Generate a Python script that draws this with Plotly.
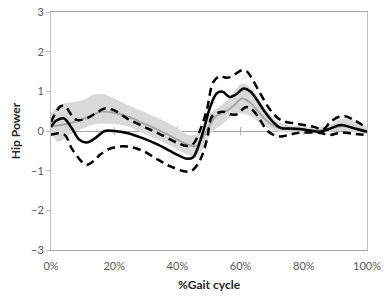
import plotly.graph_objects as go

# ---- data (x in % gait cycle, y = hip power) ----
mean_x = [0, 1.5, 4, 6.5, 9, 11.3, 14, 17, 20, 24, 29, 34, 40, 43, 45, 46.2, 48.3, 50.4, 52.5,
          54.3, 56.5, 58.5, 61, 63, 65.2, 67.5, 70, 72.6, 76, 80, 85, 88, 91.6, 95, 100]
mean_y = [0.1, 0.25, 0.32, 0.08, -0.22, -0.29, -0.18, 0.0, 0.0, -0.05, -0.18, -0.35, -0.6, -0.7,
          -0.66, -0.48, 0.03, 0.61, 0.95, 0.99, 0.86, 0.92, 1.07, 1.0, 0.78, 0.5, 0.25, 0.08,
          0.06, 0.04, -0.02, 0.05, 0.15, 0.09, -0.02]

upper_x = [0, 3, 4.5, 6.5, 8.1, 11.3, 15, 17, 20, 24, 29, 34, 40, 43, 45, 47.2, 49.3, 51.4,
           53.5, 55.7, 58, 60.4, 62, 63.6, 66.2, 69.4, 72.6, 77.9, 83, 86.2, 88.4, 92.2, 95.8, 100]
upper_y = [0.23, 0.62, 0.62, 0.4, 0.28, 0.32, 0.49, 0.57, 0.52, 0.32, 0.12, -0.06, -0.3, -0.38,
           -0.33, 0.03, 0.53, 1.24, 1.38, 1.34, 1.42, 1.53, 1.5, 1.32, 0.95, 0.53, 0.28, 0.18,
           0.11, 0.04, 0.23, 0.38, 0.28, 0.07]

lower_x = [0, 1.8, 4.4, 6.5, 9.7, 11.3, 13.9, 15.5, 19.2, 24, 29, 34, 38, 42.5, 44.6, 47.2,
           49.3, 50.9, 52.8, 55, 56.7, 58.8, 61.5, 63, 65.2, 68, 70, 72.6, 76, 79, 85, 88.4,
           91.6, 96, 100]
lower_y = [-0.1, -0.06, -0.1, -0.43, -0.77, -0.85, -0.73, -0.6, -0.43, -0.39, -0.5, -0.73,
           -0.9, -1.02, -1.0, -0.73, -0.23, 0.36, 0.46, 0.48, 0.42, 0.42, 0.6, 0.58, 0.4, 0.05,
           -0.08, -0.14, -0.08, -0.04, -0.05, -0.1, -0.04, -0.07, -0.1]

band_x = [0, 2.3, 4.4, 7.6, 10.8, 13, 16, 19, 24.5, 29, 34, 39, 43.5, 46, 48, 50, 52, 54, 56,
          58, 60.4, 63, 65.7, 68, 71, 75, 80, 85, 88, 92, 96, 100]
ref_mean = [0.12, 0.14, 0.17, 0.23, 0.32, 0.4, 0.49, 0.47, 0.36, 0.2, 0.03, -0.18, -0.35, -0.38,
            -0.18, 0.12, 0.36, 0.45, 0.53, 0.65, 0.82, 0.72, 0.48, 0.28, 0.11, 0.05, 0.03, 0.02,
            0.05, 0.12, 0.08, 0.0]
band_hi = [0.45, 0.62, 0.7, 0.74, 0.8, 0.9, 0.93, 0.86, 0.65, 0.5, 0.32, 0.12, -0.1, -0.08, 0.12,
           0.4, 0.55, 0.65, 0.8, 1.0, 1.2, 1.1, 0.82, 0.55, 0.28, 0.15, 0.12, 0.1, 0.15, 0.3,
           0.25, 0.1]
band_lo = [-0.06, -0.27, -0.18, -0.02, 0.08, 0.15, 0.19, 0.18, 0.11, -0.05, -0.23, -0.42, -0.6,
           -0.65, -0.45, -0.15, 0.05, 0.15, 0.3, 0.4, 0.44, 0.38, 0.23, 0.1, 0.0, -0.04, -0.05,
           -0.05, -0.02, 0.0, -0.03, -0.08]

x_ticks = [0, 20, 40, 60, 80, 100]
x_tick_labels = ["0%", "20%", "40%", "60%", "80%", "100%"]
y_ticks = [-3, -2, -1, 0, 1, 2, 3]

FONT = "Lato"

fig = go.Figure()
fig.add_trace(go.Scatter(x=band_x, y=band_hi, mode="lines", line=dict(width=0, shape="spline"),
                         hoverinfo="skip", showlegend=False))
fig.add_trace(go.Scatter(x=band_x, y=band_lo, mode="lines", line=dict(width=0, shape="spline"),
                         fill="tonexty", fillcolor="#d9d9d9", showlegend=False))
fig.add_trace(go.Scatter(x=band_x, y=ref_mean, mode="lines",
                         line=dict(color="#a6a6a6", width=2, shape="spline"), showlegend=False))
fig.add_trace(go.Scatter(x=upper_x, y=upper_y, mode="lines",
                         line=dict(color="black", width=2.5, dash="8px,5px", shape="spline"),
                         showlegend=False))
fig.add_trace(go.Scatter(x=lower_x, y=lower_y, mode="lines",
                         line=dict(color="black", width=2.5, dash="8px,5px", shape="spline"),
                         showlegend=False))
fig.add_trace(go.Scatter(x=mean_x, y=mean_y, mode="lines",
                         line=dict(color="black", width=2.5, shape="spline"), showlegend=False))

# small tick marks on the zero line (Excel-style horizontal axis crossing at 0)
for t in x_ticks[1:-1]:
    fig.add_shape(type="line", x0=t, x1=t, y0=-0.1, y1=0.1, xref="x", yref="y",
                  line=dict(color="#a6a6a6", width=1), layer="below")

fig.update_layout(
    width=385, height=299,
    margin=dict(l=51, r=18, t=12, b=49),
    paper_bgcolor="white", plot_bgcolor="white",
    font=dict(family=FONT, size=11, color="#595959"),
    xaxis=dict(range=[0, 100], tickvals=x_ticks, ticktext=x_tick_labels, showgrid=False,
               zeroline=False, showline=True, linecolor="#a6a6a6", linewidth=1, mirror=True,
               ticks="outside", ticklen=6, tickcolor="rgba(0,0,0,0)", automargin=False,
               tickfont=dict(family=FONT, size=11, color="#595959"),
               title=dict(text="<b>%Gait cycle</b>", standoff=9,
                          font=dict(family=FONT, size=12, color="#262626"))),
    yaxis=dict(range=[-3, 3], tickvals=y_ticks, showgrid=False, automargin=False,
               zeroline=True, zerolinecolor="#a6a6a6", zerolinewidth=1,
               showline=True, linecolor="#bfbfbf", linewidth=1, mirror=True,
               ticks="outside", ticklen=4, tickcolor="#bfbfbf",
               tickfont=dict(family=FONT, size=11, color="#595959"),
               title=dict(text="<b>Hip Power</b>", standoff=7,
                          font=dict(family=FONT, size=12, color="#262626"))),
)

fig.write_html("out.html", config={"displayModeBar": False},
               post_script="document.body.style.margin='0px';")
